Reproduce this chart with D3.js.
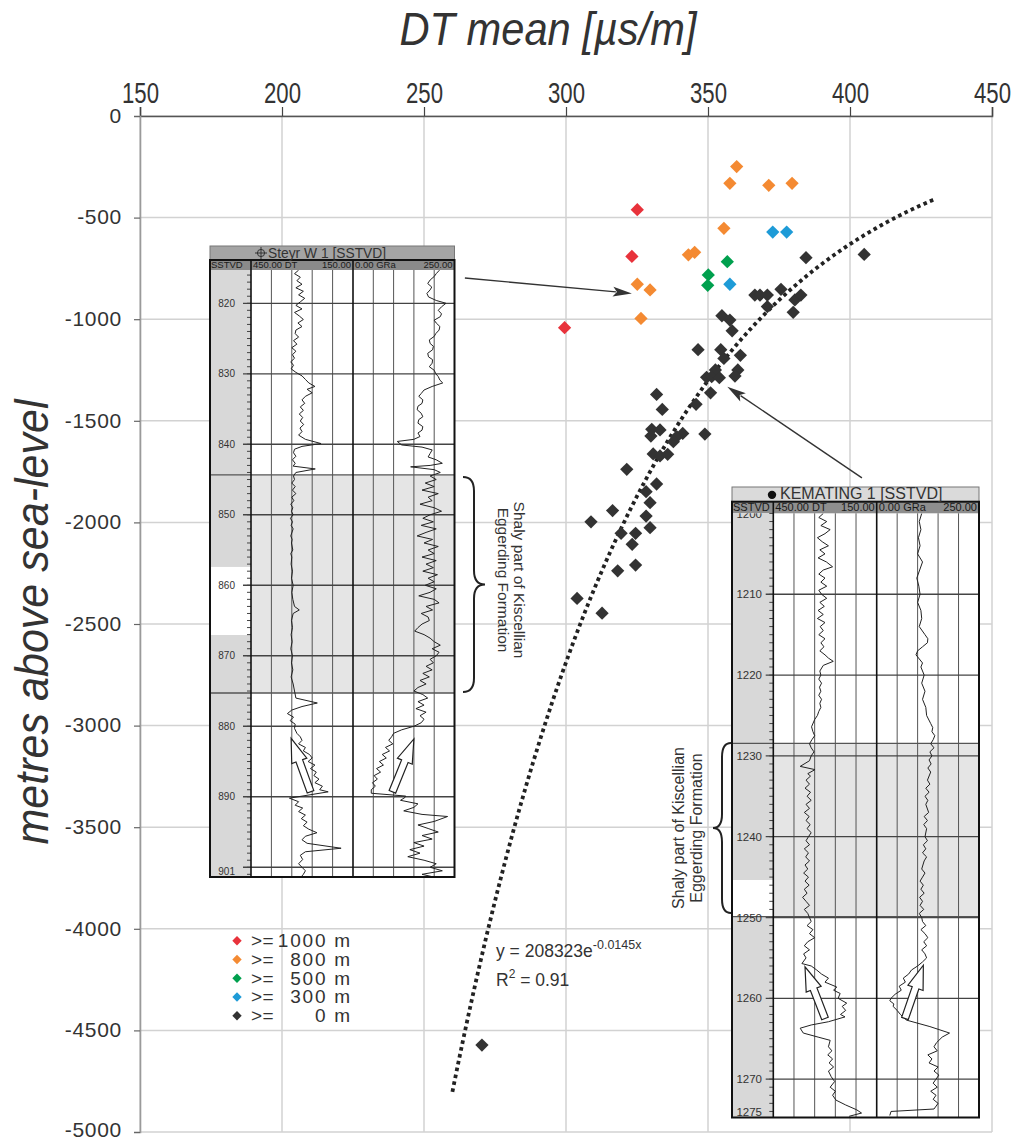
<!DOCTYPE html>
<html><head><meta charset="utf-8">
<script src="https://cdn.jsdelivr.net/npm/d3@7/dist/d3.min.js"></script>
<style>html,body{margin:0;padding:0;background:#fff}</style>
</head><body>
<script>
// ---------------- DATA ----------------
const xTicks=[150,200,250,300,350,400,450];
const yTicks=[0,-500,-1000,-1500,-2000,-2500,-3000,-3500,-4000,-4500,-5000];
const classLabels=["1000","800","500","300","0"];
const classColors=["#e8323b","#f48a32","#00a04e","#1e9bd7","#333333"];
// [DT mean µs/m, metres above sea-level]
const ptsRed=[[325.1,-461],[323.2,-691],[299.5,-1042]];
const ptsOrange=[[360.1,-249],[357.7,-331],[371.4,-341],[379.6,-331],[355.6,-553],[343.1,-683],[345.3,-671],[325.1,-828],[329.6,-856],[326.4,-996]];
const ptsGreen=[[356.8,-717],[350.1,-782],[349.9,-833]];
const ptsBlue=[[372.8,-571],[377.7,-571],[357.7,-828]];
const ptsBlack=[[384.5,-697],[405.0,-681],[366.5,-881],[368.3,-881],[370.9,-881],[375.7,-853],[370.9,-938],[380.6,-905],[382.7,-881],[380.0,-966],[354.9,-983],[357.7,-1004],[358.5,-1057],[346.5,-1150],[354.5,-1150],[361.4,-1178],[355.6,-1193],[352.6,-1250],[360.5,-1250],[349.5,-1286],[351.3,-1283],[354.0,-1288],[359.5,-1280],[350.9,-1362],[345.8,-1419],[331.9,-1370],[333.9,-1444],[330.2,-1542],[333.1,-1545],[329.9,-1575],[341.1,-1562],[339.0,-1578],[337.8,-1603],[348.9,-1565],[330.7,-1663],[333.1,-1673],[335.8,-1665],[321.4,-1739],[331.9,-1811],[328.2,-1849],[329.6,-1903],[328.2,-1969],[329.6,-2026],[316.4,-1942],[308.8,-1997],[319.4,-2054],[324.5,-2054],[323.3,-2108],[318.2,-2238],[324.5,-2210],[303.9,-2374],[312.7,-2447],[270.4,-4572]];
const trendA=208323, trendB=-0.0145, trendRange=[260,430], trendR2="0.91";

// Well logs: [depth m, value]
const steyrDT=[[815.3,310],[815.8,322],[816.3,305],[816.8,315],[817.3,300],[817.8,318],[818.3,296],[818.8,310],[819.3,292],[819.8,305],[820.3,318],[820.8,300],[821.3,322],[821.8,308],[822.3,296],[822.8,312],[823.3,300],[823.8,318],[824.3,320],[824.8,310],[825.3,325],[825.8,315],[826.3,330],[826.8,318],[827.3,328],[827.8,322],[828.3,333],[828.8,325],[829.3,332],[829.8,318],[830.3,300],[830.8,290],[831.3,280],[831.8,262],[832.2,285],[832.7,270],[833.2,290],[833.7,300],[834.2,292],[834.7,305],[835.2,296],[835.7,308],[836.2,298],[836.7,305],[837.2,295],[837.7,306],[838.2,300],[838.7,310],[839.3,290],[839.9,244],[840.3,300],[840.7,322],[841.2,325],[841.7,318],[842.2,328],[842.7,320],[843.1,326],[843.5,261],[844,318],[844.5,325],[845,322],[845.5,330],[846,320],[846.5,328],[847,318],[847.5,330],[848,324],[848.5,333],[849,327],[849.5,331],[850,326],[850.5,334],[851,328],[851.5,332],[852,326],[853,333],[853.5,329],[854,331],[855,327],[855.5,333],[856,330],[857,332],[858,328],[859,331],[860,326],[861,330],[862,327],[863,322],[863.5,308],[864,326],[865,331],[866,328],[867,332],[868,329],[869,333],[870,328],[871,331],[872,327],[873,332],[874,326],[875,322],[876,318],[876.7,255],[877.2,300],[877.7,330],[878.2,343],[878.7,325],[879.2,335],[879.7,320],[880.3,322],[881,315],[881.5,305],[882,300],[882.5,310],[883,290],[883.5,296],[884,278],[884.5,270],[885,282],[885.5,262],[886,275],[886.5,258],[887,265],[887.5,250],[888,262],[888.5,240],[889,248],[889.3,223],[890.2,337],[890.7,310],[891.2,320],[891.6,298],[892.1,310],[892.6,290],[893.1,302],[893.6,285],[894.1,296],[894.6,280],[895.1,256],[895.6,290],[896.1,300],[896.6,285],[897.3,185],[897.8,290],[898.3,305],[898.9,298],[899.5,310],[900,300],[900.5,290],[901,296],[901.4,303]];
const steyrGR=[[815.3,213],[815.8,205],[816.2,200],[816.7,190],[817.2,184],[817.7,194],[818.1,190],[818.6,182],[819.1,186],[819.6,205],[820,229],[820.5,218],[821,210],[821.5,218],[821.9,215],[822.4,200],[822.8,205],[823.3,214],[823.8,212],[824.3,204],[824.7,200],[825.2,188],[825.7,190],[826.1,198],[826.6,196],[827.1,184],[827.6,186],[828,196],[828.5,195],[829,188],[829.5,200],[830,204],[830.4,210],[830.9,214],[831.3,221],[831.8,195],[832.3,175],[832.8,168],[833.2,162],[833.7,172],[834.2,170],[834.6,160],[835.1,158],[835.6,168],[836.1,172],[836.5,162],[837,160],[837.5,172],[838,170],[838.4,160],[838.9,165],[839.3,150],[839.6,109],[840.1,120],[840.4,170],[840.8,195],[841.3,190],[841.8,185],[842.2,205],[842.7,220],[843.0,190],[843.2,142],[843.6,200],[844,215],[844.5,190],[845,205],[845.5,178],[846,200],[846.5,170],[847,210],[847.5,185],[848,195],[848.5,165],[849,200],[849.5,218],[850,190],[850.5,172],[851,198],[851.5,168],[852,205],[852.5,180],[853,158],[853.5,196],[854,175],[854.5,210],[855,185],[855.5,200],[856,170],[856.5,205],[857,180],[857.5,198],[858,172],[858.5,208],[859,185],[859.5,200],[860,178],[860.5,205],[861,190],[861.5,162],[862,200],[862.5,212],[863,180],[863.5,196],[864,168],[864.5,185],[865,188],[865.5,170],[866,160],[866.5,152],[867,175],[867.5,190],[868,200],[868.5,215],[869,195],[869.5,212],[870,205],[870.5,190],[871,198],[871.5,180],[872,195],[872.5,172],[873,188],[873.5,165],[874,180],[874.5,160],[875,150],[875.5,172],[876,184],[876.5,160],[877,175],[877.5,155],[878,180],[878.5,165],[879,175],[879.5,168],[880,150],[880.5,120],[881,100],[881.5,95],[882,88],[882.5,98],[883,80],[883.5,90],[884,72],[884.5,82],[885,65],[885.5,75],[886,58],[886.5,68],[887,52],[887.5,60],[888,48],[888.5,55],[889,45],[889.5,45],[889.9,130],[890.1,128],[890.5,117],[891,160],[891.5,150],[892,125],[892.5,170],[892.8,233],[893.5,200],[894,160],[894.5,185],[895,210],[895.5,170],[896,195],[896.5,150],[897,175],[897.5,140],[898,165],[898.5,135],[899,175],[899.5,205],[900,190],[900.5,220],[901,170],[901.4,200]];
const kematingDT=[[1200,305],[1200.5,318],[1201,295],[1201.5,312],[1202,285],[1202.5,300],[1203,322],[1203.5,308],[1204,290],[1204.5,315],[1205,300],[1205.5,320],[1206,296],[1206.6,278],[1207,305],[1207.5,318],[1208,300],[1208.5,312],[1209,295],[1209.5,318],[1210,310],[1210.5,295],[1211,315],[1211.5,302],[1212,320],[1212.5,305],[1213,322],[1213.5,300],[1214,314],[1214.5,305],[1215,318],[1215.5,300],[1216,312],[1216.5,303],[1217,315],[1217.5,300],[1217.9,290],[1218.3,276],[1218.8,305],[1219.5,315],[1220,312],[1220.5,318],[1221,310],[1221.5,316],[1222,312],[1222.5,318],[1223,310],[1223.5,315],[1224,312],[1224.5,318],[1225,322],[1225.5,330],[1226.4,339],[1227,335],[1227.5,330],[1228,338],[1228.5,345],[1229,340],[1229.5,332],[1230,340],[1230.6,345],[1231.3,372],[1231.7,329],[1232.2,350],[1232.5,342],[1233,355],[1233.5,345],[1234,358],[1234.5,342],[1235,352],[1235.5,340],[1236,355],[1236.5,345],[1237,360],[1237.5,346],[1238,355],[1238.5,343],[1239,352],[1239.5,340],[1240,348],[1240.5,355],[1241,345],[1241.5,360],[1242,348],[1242.5,356],[1243,345],[1243.5,358],[1244,350],[1244.5,362],[1245,348],[1245.5,358],[1246,346],[1246.5,360],[1247,352],[1247.5,365],[1248,355],[1248.5,345],[1249,360],[1249.5,350],[1250,345],[1250.5,340],[1251,352],[1251.5,335],[1252,345],[1252.5,330],[1253,350],[1253.5,360],[1254,345],[1254.5,362],[1255,355],[1255.7,367],[1256,340],[1256.5,324],[1257,310],[1257.5,290],[1258,300],[1258.6,266],[1259,275],[1259.4,256],[1260,262],[1260.6,237],[1261,250],[1261.5,240],[1262,255],[1262.3,242],[1262.9,290],[1263.3,340],[1263.7,372],[1264.3,363],[1264.8,320],[1265.2,285],[1266,290],[1266.5,280],[1267,292],[1267.5,278],[1268,288],[1268.5,275],[1269,290],[1269.7,282],[1270.3,272],[1271,285],[1271.5,270],[1272,278],[1272.6,268],[1273.2,240],[1273.8,208],[1274.2,194],[1274.6,230]];
const kematingGR=[[1200,110],[1201,104],[1202,108],[1203,102],[1204,106],[1205,100],[1206,112],[1207,105],[1208,98],[1209,103],[1210,106],[1211,100],[1212,108],[1213,110],[1214,104],[1215,118],[1215.5,125],[1216,124],[1216.5,112],[1217,100],[1217.5,96],[1218,104],[1218.5,112],[1219,108],[1220,116],[1221,110],[1222,118],[1223,112],[1224,120],[1225,122],[1226,132],[1226.5,137],[1227,135],[1227.5,142],[1228,138],[1228.5,132],[1229,140],[1229.5,130],[1230,135],[1230.5,128],[1231,133],[1231.5,125],[1232,132],[1233,124],[1233.5,130],[1234,120],[1234.5,128],[1235,118],[1235.5,125],[1236,120],[1237,127],[1237.5,116],[1238,124],[1238.5,115],[1239,122],[1240,118],[1240.5,124],[1241,114],[1241.5,120],[1242,112],[1242.5,122],[1243,116],[1244,110],[1244.5,118],[1245,112],[1245.5,106],[1246,114],[1246.5,108],[1247,116],[1247.5,105],[1248,112],[1248.5,106],[1249,115],[1249.5,104],[1250,110],[1250.5,112],[1251,120],[1251.5,108],[1252,118],[1252.5,125],[1253,115],[1253.5,122],[1254,110],[1254.5,118],[1255,122],[1255.5,112],[1256,100],[1256.5,85],[1257,78],[1257.5,65],[1258,70],[1258.5,55],[1259,60],[1259.5,45],[1260,35],[1260.3,32],[1260.7,42],[1261,40],[1261.5,50],[1262,58],[1262.7,73],[1263.5,130],[1264.3,178],[1264.8,160],[1265.5,146],[1266,140],[1266.5,148],[1267,125],[1267.5,135],[1268,128],[1268.5,150],[1269,140],[1269.5,152],[1270,145],[1270.5,138],[1271,148],[1271.5,132],[1272,145],[1272.5,138],[1273,150],[1273.7,140],[1274,35],[1274.5,32]];
const steyrLabels=[820,830,840,850,860,870,880,890];
const kematingLabels=[1200,1210,1220,1230,1240,1250,1260,1270];

// ---------------- CHART ----------------
const W=1017,H=1140;
const FONT="'Liberation Sans', Arial, Helvetica, sans-serif";
const svg=d3.select("body").append("svg").attr("width",W).attr("height",H).style("font-family",FONT);
const x=d3.scaleLinear().domain([150,450]).range([140,992]);
const y=d3.scaleLinear().domain([0,-5000]).range([116,1132]);

// grid
const grid=svg.append("g");
grid.selectAll(null).data(xTicks).join("line")
  .attr("x1",d=>x(d)).attr("x2",d=>x(d)).attr("y1",y(0)).attr("y2",y(-5000))
  .attr("stroke","#d2d2d2").attr("stroke-width",1.5);
grid.selectAll(null).data(yTicks).join("line")
  .attr("x1",x(150)).attr("x2",x(450)).attr("y1",d=>y(d)).attr("y2",d=>y(d))
  .attr("stroke","#d2d2d2").attr("stroke-width",1.5);

// axes
const topAx=svg.append("g").attr("transform",`translate(0,${y(0)})`)
  .call(d3.axisTop(x).tickValues(xTicks).tickSize(9).tickPadding(4).tickFormat(d3.format("d")));
topAx.select(".domain").attr("stroke","#555").attr("stroke-width",1.6);
topAx.selectAll(".tick line").attr("stroke","#444").attr("stroke-width",1.2);
topAx.selectAll(".tick text").attr("font-size",30).attr("fill","#333").attr("transform","scale(0.74,1)");

const leftAx=svg.append("g").attr("transform",`translate(${x(150)},0)`)
  .call(d3.axisLeft(y).tickValues(yTicks).tickSize(6).tickPadding(12).tickFormat(d=>d===0?"0":"-"+Math.abs(d)));
leftAx.select(".domain").attr("stroke","#9a9a9a").attr("stroke-width",1.6);
leftAx.selectAll(".tick line").attr("stroke","#666").attr("stroke-width",1.2);
leftAx.selectAll(".tick text").attr("font-size",21).attr("fill","#333").attr("letter-spacing",0.7).attr("dy","0.3em");
leftAx.selectAll(".tick").filter(d=>d===-5000).select("text").attr("dy","0.22em");

// titles
svg.append("text").attr("x",548).attr("y",45).attr("text-anchor","middle")
  .attr("font-style","italic").attr("font-size",46).attr("fill","#333")
  .attr("textLength",297).attr("lengthAdjust","spacingAndGlyphs")
  .text("DT mean [µs/m]");
svg.append("text").attr("transform","translate(48,622) rotate(-90)").attr("text-anchor","middle")
  .attr("font-style","italic").attr("font-size",47).attr("fill","#333")
  .attr("textLength",445).attr("lengthAdjust","spacingAndGlyphs")
  .text("metres above sea-level");

// ---------------- WELL LOG INSETS ----------------
function hollowArrow(g,tail,tip,sw,hw,hl){
  const dx=tip[0]-tail[0],dy=tip[1]-tail[1],len=Math.hypot(dx,dy);
  const ux=dx/len,uy=dy/len,nx=-uy,ny=ux;
  const bx=tip[0]-ux*hl,by=tip[1]-uy*hl;
  const p=[[tail[0]+nx*sw/2,tail[1]+ny*sw/2],[bx+nx*sw/2,by+ny*sw/2],[bx+nx*hw/2,by+ny*hw/2],tip,
    [bx-nx*hw/2,by-ny*hw/2],[bx-nx*sw/2,by-ny*sw/2],[tail[0]-nx*sw/2,tail[1]-ny*sw/2]];
  g.append("path").attr("d","M"+p.map(q=>q.join(",")).join("L")+"Z")
    .attr("fill","#fff").attr("stroke","#222").attr("stroke-width",1.2);
}

function drawLog(L){
  const g=svg.append("g");
  const dS=d3.scaleLinear().domain(L.depthDomain).range([L.yTrack0,L.yTrack1]);
  const dtS=d3.scaleLinear().domain([450,150]).range(L.xDT);
  const grS=d3.scaleLinear().domain([0,250]).range(L.xGR);
  const xL=L.xDepth[0],xR=L.xGR[1];
  g.append("rect").attr("x",xL).attr("y",L.yTitle0).attr("width",xR-xL).attr("height",L.yTrack1-L.yTitle0).attr("fill","#fff");
  g.append("rect").attr("x",xL).attr("y",L.yTitle0).attr("width",xR-xL).attr("height",L.yHead0-L.yTitle0)
    .attr("fill",L.titleFill).attr("stroke","#777").attr("stroke-width",1);
  g.append("rect").attr("x",xL).attr("y",L.yHead0).attr("width",xR-xL).attr("height",L.yTrack0-L.yHead0).attr("fill",L.headFill);
  g.append("rect").attr("x",xL).attr("y",L.yTrack0).attr("width",L.xDepth[1]-xL).attr("height",L.yTrack1-L.yTrack0).attr("fill","#d8d8d8");
  g.append("rect").attr("x",xL).attr("y",dS(L.gap[0])).attr("width",L.xDepth[1]-xL).attr("height",dS(L.gap[1])-dS(L.gap[0])).attr("fill","#fff");
  g.append("rect").attr("x",L.xDT[0]).attr("y",dS(L.band[0])).attr("width",xR-L.xDT[0]).attr("height",dS(L.band[1])-dS(L.band[0])).attr("fill","#e5e5e5");
  const vl=[];
  [L.xDT,L.xGR].forEach(([a,b])=>{for(let i=1;i<5;i++)vl.push(a+(b-a)*i/5);});
  g.selectAll(null).data(vl).join("line").attr("x1",d=>d).attr("x2",d=>d).attr("y1",L.yTrack0).attr("y2",L.yTrack1)
    .attr("stroke","#555").attr("stroke-width",1);
  g.selectAll(null).data(L.majors).join("line").attr("x1",L.majorX).attr("x2",xR).attr("y1",d=>dS(d)).attr("y2",d=>dS(d))
    .attr("stroke","#444").attr("stroke-width",1.3);
  g.selectAll(null).data(L.band).join("line").attr("x1",xL).attr("x2",xR).attr("y1",d=>dS(d)).attr("y2",d=>dS(d))
    .attr("stroke","#555").attr("stroke-width",1.3);
  const minors=d3.range(Math.ceil(L.depthDomain[0]),L.depthDomain[1],1);
  g.selectAll(null).data(minors).join("line").attr("x1",L.xDepth[1]-4).attr("x2",L.xDepth[1]).attr("y1",d=>dS(d)).attr("y2",d=>dS(d))
    .attr("stroke","#444").attr("stroke-width",1);
  const cid="clip"+L.id;
  svg.append("defs").append("clipPath").attr("id",cid).append("rect")
    .attr("x",xL).attr("y",L.yTrack0).attr("width",xR-xL).attr("height",L.yTrack1-L.yTrack0);
  const cg=g.append("g").attr("clip-path",`url(#${cid})`);
  cg.selectAll(null).data(L.labels).join("text").attr("x",L.labelX).attr("y",d=>dS(d)).attr("dy","0.36em")
    .attr("text-anchor","end").attr("font-size",L.labelSize).attr("fill","#333").text(d=>d);
  cg.append("text").attr("x",L.labelX).attr("y",dS(L.bottomLabelDepth)).attr("dy","0.36em")
    .attr("text-anchor","end").attr("font-size",L.labelSize).attr("fill","#333").text(L.bottomLabel);
  const line=(sc)=>d3.line().x(d=>sc(d[1])).y(d=>dS(d[0]));
  cg.append("path").attr("d",line(dtS)(L.dt)).attr("fill","none").attr("stroke","#222").attr("stroke-width",1);
  cg.append("path").attr("d",line(grS)(L.gr)).attr("fill","none").attr("stroke","#222").attr("stroke-width",1);
  hollowArrow(g,[dtS(L.dtArrow[0][1]),dS(L.dtArrow[0][0])],[dtS(L.dtArrow[1][1]),dS(L.dtArrow[1][0])],7,16,24);
  hollowArrow(g,[grS(L.grArrow[0][1]),dS(L.grArrow[0][0])],[grS(L.grArrow[1][1]),dS(L.grArrow[1][0])],7,16,24);
  g.append("rect").attr("x",xL).attr("y",L.yHead0).attr("width",xR-xL).attr("height",L.yTrack1-L.yHead0)
    .attr("fill","none").attr("stroke","#111").attr("stroke-width",2);
  [L.xDepth[1],L.xDT[1]].forEach(v=>g.append("line").attr("x1",v).attr("x2",v).attr("y1",L.yHead0).attr("y2",L.yTrack1)
    .attr("stroke","#111").attr("stroke-width",1.6));
  const hy=L.yTrack0-2.5;
  const ht=(xx,anchor,t)=>g.append("text").attr("x",xx).attr("y",hy).attr("text-anchor",anchor)
    .attr("font-size",L.headSize).attr("fill","#1a1a1a").text(t);
  ht(xL+1,"start","SSTVD");
  ht(L.xDT[0]+2,"start","450.00 DT");
  ht(L.xDT[1]-2,"end","150.00");
  ht(L.xGR[0]+2,"start","0.00 GRa");
  ht(L.xGR[1]-2,"end","250.00");
  const ty=L.yHead0-2.5;
  g.append("text").attr("x",L.titleX).attr("y",ty).attr("font-size",L.titleSize).attr("fill","#333").text(L.title);
  if(L.symbol==="dry"){
    const cx=L.titleX-7,cy=(L.yTitle0+L.yHead0)/2;
    g.append("circle").attr("cx",cx).attr("cy",cy).attr("r",3.6).attr("fill","none").attr("stroke","#333").attr("stroke-width",1);
    g.append("line").attr("x1",cx-6).attr("x2",cx+6).attr("y1",cy).attr("y2",cy).attr("stroke","#333");
    g.append("line").attr("x1",cx).attr("x2",cx).attr("y1",cy-6).attr("y2",cy+6).attr("stroke","#333");
  } else {
    g.append("circle").attr("cx",L.titleX-8).attr("cy",(L.yTitle0+L.yHead0)/2+0.5).attr("r",4.2).attr("fill","#111");
  }
}

function brace(x0,y0,y1,w){
  const m=(y0+y1)/2,r=14,xm=x0+w/2,xt=x0+w;
  return `M${x0},${y0} Q${xm},${y0} ${xm},${y0+r} L${xm},${m-r} Q${xm},${m} ${xt},${m} Q${xm},${m} ${xm},${m+r} L${xm},${y1-r} Q${xm},${y1} ${x0},${y1}`;
}

drawLog({id:"s",xDepth:[210,251],xDT:[251,353],xGR:[353,454.5],yTitle0:246,yHead0:260,yTrack0:270,yTrack1:877,
  depthDomain:[815.28,901.38],majors:[820,830,840,850,860,870,880,890,900],majorX:243,labels:steyrLabels,
  bottomLabel:"901",bottomLabelDepth:900.6,labelX:235,labelSize:10,headSize:9.5,
  gap:[857.4,867.05],band:[844.35,875.28],dt:steyrDT,gr:steyrGR,
  dtArrow:[[889.3,275],[881.7,332]],grArrow:[[889.3,97],[881.8,150]],
  titleFill:"#a4a4a4",headFill:"#8a8a8a",title:"Steyr W 1 [SSTVD]",titleX:268,titleSize:13.8,symbol:"dry"});
drawLog({id:"k",xDepth:[732,773.3],xDT:[773.3,876.7],xGR:[876.7,979],yTitle0:487,yHead0:501.7,yTrack0:513.3,yTrack1:1117.5,
  depthDomain:[1199.98,1274.75],majors:[1210,1220,1230,1240,1250,1260,1270],majorX:765.7,labels:kematingLabels,
  bottomLabel:"1275",bottomLabelDepth:1274.1,labelX:762,labelSize:11.5,headSize:11,
  gap:[1245.36,1249.9],band:[1228.44,1249.9],dt:kematingDT,gr:kematingGR,
  dtArrow:[[1262.5,300],[1256.1,358]],grArrow:[[1262.5,69],[1255.9,114]],
  titleFill:"#dadada",headFill:"#8e8e8e",title:"KEMATING 1 [SSTVD]",titleX:780,titleSize:16,symbol:"well"});

svg.append("path").attr("d",brace(463,477,692,22)).attr("fill","none").attr("stroke","#222").attr("stroke-width",2);
svg.append("text").attr("transform","translate(514,580) rotate(90)").attr("text-anchor","middle")
  .attr("font-size",15.5).attr("fill","#333")
  .call(t=>{t.append("tspan").attr("x",0).attr("dy",0).text("Shaly part of Kiscellian");
            t.append("tspan").attr("x",0).attr("dy","1.05em").text("Eggerding Formation");});
svg.append("path").attr("d",brace(731,743,913,-18)).attr("fill","none").attr("stroke","#222").attr("stroke-width",2);
svg.append("text").attr("transform","translate(684,828) rotate(-90)").attr("text-anchor","middle")
  .attr("font-size",16).attr("fill","#333")
  .call(t=>{t.append("tspan").attr("x",0).attr("dy",0).text("Shaly part of Kiscellian");
            t.append("tspan").attr("x",0).attr("dy","1.15em").text("Eggerding Formation");});

// ---------------- TRENDLINE & POINTS ----------------
const trend=d3.range(trendRange[0],trendRange[1]+0.001,1).map(v=>[v,-trendA*Math.exp(trendB*v)]);
svg.append("path").attr("d",d3.line().x(d=>x(d[0])).y(d=>y(d[1]))(trend))
  .attr("fill","none").attr("stroke","#222").attr("stroke-width",3.8).attr("stroke-dasharray","3.6,3.4");

const series=[ptsBlack,ptsBlue,ptsGreen,ptsOrange,ptsRed];
const seriesColor=[classColors[4],classColors[3],classColors[2],classColors[1],classColors[0]];
const diamond=d3.symbol().type(d3.symbolSquare).size(88);
series.forEach((pts,i)=>{
  svg.append("g").selectAll(null).data(pts).join("path").attr("d",diamond)
    .attr("transform",d=>`translate(${x(d[0])},${y(d[1])}) rotate(45)`).attr("fill",seriesColor[i]);
});

function pointer(from,to){
  const a=[x(from[0]),y(from[1])],b=[x(to[0]),y(to[1])];
  const dx=b[0]-a[0],dy=b[1]-a[1],len=Math.hypot(dx,dy),ux=dx/len,uy=dy/len,nx=-uy,ny=ux,hl=19,hw=10;
  const bx=b[0]-ux*hl,by=b[1]-uy*hl;
  svg.append("line").attr("x1",a[0]).attr("y1",a[1]).attr("x2",bx+ux*3).attr("y2",by+uy*3).attr("stroke","#333").attr("stroke-width",1.4);
  svg.append("path").attr("d",`M${b[0]},${b[1]}L${bx+nx*hw/2},${by+ny*hw/2}L${bx+ux*4},${by+uy*4}L${bx-nx*hw/2},${by-ny*hw/2}Z`).attr("fill","#333");
}
pointer([264.4,-797],[323.2,-873]);
pointer([404.2,-1781],[356.8,-1332]);

// ---------------- LEGEND ----------------
const lg=svg.append("g");
const legDiamond=d3.symbol().type(d3.symbolSquare).size(44);
classLabels.forEach((lab,i)=>{
  const cy=940.7+i*18.75;
  lg.append("path").attr("d",legDiamond).attr("transform",`translate(237,${cy}) rotate(45)`).attr("fill",classColors[i]);
  lg.append("text").attr("x",251).attr("y",cy+6.5).attr("font-size",19).attr("letter-spacing",0.5).attr("fill","#333").text(">=");
  lg.append("text").attr("x",352).attr("y",cy+6.5).attr("text-anchor","end").attr("font-size",19).attr("letter-spacing",1.8).attr("fill","#333").text(lab+" m");
});

const eq=svg.append("text").attr("x",496).attr("y",957).attr("font-size",17.5).attr("fill","#333");
eq.append("tspan").text("y = "+trendA+"e");
eq.append("tspan").attr("dy",-8).attr("font-size",12.5).text(String(trendB)+"x");
const r2=svg.append("text").attr("x",496).attr("y",986).attr("font-size",17.5).attr("fill","#333");
r2.append("tspan").text("R");
r2.append("tspan").attr("dy",-8).attr("font-size",12).text("2");
r2.append("tspan").attr("dy",8).text(" = "+trendR2);
</script>
</body></html>
